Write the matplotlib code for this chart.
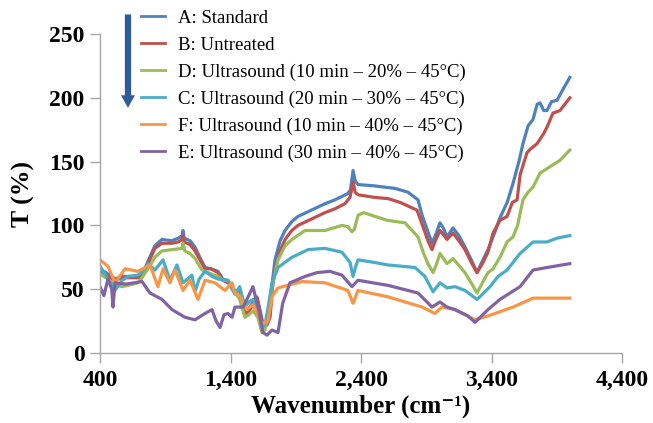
import matplotlib
matplotlib.use("Agg")
import matplotlib.pyplot as plt
from matplotlib.ticker import FuncFormatter

# ---- data ----
a_x = [400,460,515,570,650,720,760,820,875,950,1000,1030,1036,1045,1090,1128,1160,1205,1250,1304,1340,1381,1410,1440,1470,1500,1526,1560,1603,1630,1650,1680,1703,1720,1741,1780,1818,1870,1917,2000,2124,2200,2300,2320,2339,2355,2377,2500,2661,2760,2837,2868,2913,2944,2970,3005,3030,3059,3105,3150,3197,3250,3289,3330,3373,3427,3465,3520,3565,3610,3641,3680,3718,3750,3772,3800,3825,3860,3902,3950,4000]
a_y = [66,62,58,60,60,60,70,84,89,88,90,92,96,90,88,83,76,67,66,64,58,56,52,48,50,40,32,38,44,32,22,24,30,55,73,88,96,103,107,111,117,120,125,128,143,135,132,131,129,126,120,108,95,86,92,102,98,91,98,92,83,72,63,72,81,95,106,118,133,150,164,178,183,195,196,190,190,197,198,207,216]

b_x = [400,460,515,570,650,720,760,820,875,950,1000,1030,1036,1045,1090,1128,1160,1205,1250,1304,1340,1381,1410,1440,1470,1500,1526,1560,1603,1630,1650,1680,1703,1720,1741,1780,1818,1870,1917,2000,2124,2200,2277,2316,2339,2355,2377,2500,2607,2700,2829,2875,2913,2944,2970,3005,3030,3059,3105,3150,3197,3250,3289,3330,3373,3412,3465,3519,3560,3596,3620,3672,3700,3749,3800,3825,3871,3925,4000]
b_y = [64,60,57,59,59,59,68,82,86,86,87,89,92,87,85,80,74,66,66,63,57,55,52,47,50,38,30,36,43,30,20,22,28,50,65,80,89,96,100,104,110,113,117,122,134,126,124,122,121,118,112,99,88,81,88,96,93,89,94,88,81,70,63,70,79,94,104,107,118,120,140,157,160,164,172,177,188,190,200]

d_x = [400,460,515,570,615,691,722,780,821,875,950,1028,1036,1050,1090,1128,1182,1250,1304,1340,1381,1412,1434,1470,1511,1540,1572,1610,1641,1664,1687,1718,1764,1818,1871,1971,2124,2254,2300,2331,2350,2377,2420,2600,2737,2837,2880,2913,2952,2980,3005,3059,3105,3197,3250,3289,3330,3373,3412,3465,3519,3565,3600,3641,3680,3718,3772,3848,3925,4000]
d_y = [62,58,53,52,53,55,59,68,75,80,81,82,86,80,78,74,65,62,60,57,57,52,48,42,28,30,33,28,16,18,30,52,73,84,89,96,96,100,99,95,97,108,110,104,102,91,78,70,63,70,78,70,74,63,54,47,55,63,66,75,87,91,100,120,126,130,141,146,151,159]

c_x = [400,460,515,570,615,691,745,768,821,883,936,990,1036,1105,1128,1160,1205,1258,1304,1381,1412,1434,1470,1511,1540,1572,1610,1641,1664,1687,1718,1764,1871,1994,2124,2254,2316,2339,2360,2377,2500,2607,2814,2890,2952,3005,3059,3120,3197,3250,3289,3330,3389,3450,3519,3619,3718,3825,3902,4000]
c_y = [68,58,49,57,60,61,66,70,65,73,57,69,55,61,48,58,64,60,58,57,50,46,52,36,40,42,35,20,22,35,55,67,75,81,82,79,71,60,68,73,71,69,67,60,48,55,51,52,49,45,42,46,52,60,65,78,87,87,90,92]

f_x = [400,461,515,592,691,783,844,883,936,975,1036,1090,1151,1205,1281,1358,1412,1434,1470,1526,1572,1641,1687,1718,1764,1948,2124,2300,2339,2377,2607,2868,2967,3021,3120,3274,3373,3565,3718,4000]
f_y = [73,68,55,66,64,69,52,66,55,65,49,57,42,57,55,49,55,47,45,34,38,23,25,44,51,56,55,49,39,49,44,36,31,36,34,26,29,36,43,43]

e_x = [400,430,461,490,500,515,600,722,783,875,952,1051,1128,1205,1258,1290,1320,1350,1381,1412,1434,1496,1540,1572,1611,1649,1680,1718,1764,1800,1856,1971,2063,2162,2254,2331,2377,2607,2837,2944,3005,3059,3120,3220,3274,3373,3465,3619,3718,3825,4000]
e_y = [52,45,58,50,36,55,54,56,47,42,34,28,26,31,34,25,20,30,31,28,36,36,45,52,36,16,14,18,16,39,55,60,63,64,61,52,57,53,47,36,40,36,34,29,24,34,42,52,65,67,70]

labels = ["A: Standard", "B: Untreated",
          "D: Ultrasound (10 min \u2013 20% \u2013 45\u00b0C)",
          "C: Ultrasound (20 min \u2013 30% \u2013 45\u00b0C)",
          "F: Ultrasound (10 min \u2013 40% \u2013 45\u00b0C)",
          "E: Ultrasound (30 min \u2013 40% \u2013 45\u00b0C)"]
colors = ["#4F81BD", "#C0504D", "#9BBB59", "#4BACC6", "#F79646", "#8064A2"]
series = [(a_x, a_y), (b_x, b_y), (d_x, d_y), (c_x, c_y), (f_x, f_y), (e_x, e_y)]

x_ticks = [400, 1400, 2400, 3400, 4400]
y_ticks = [0, 50, 100, 150, 200, 250]

SERIF = ["Liberation Serif", "DejaVu Serif"]

# ---- figure ----
fig = plt.figure(figsize=(6.53, 4.23), dpi=100)
ax = fig.add_axes([100/653, 70/423, 522/653, 319/423])

for (x, y), c, lab in zip(series, colors, labels):
    ax.plot(x, y, color=c, lw=2.3, label=lab, solid_joinstyle="round")

ax.set_xlim(400, 4400)
ax.set_ylim(0, 250)
ax.set_xticks(x_ticks)
ax.set_yticks(y_ticks)
ax.xaxis.set_major_formatter(FuncFormatter(lambda v, p: f"{int(v):,}"))

for s in ["top", "right"]:
    ax.spines[s].set_visible(False)
for s in ["left", "bottom"]:
    ax.spines[s].set_color("#A6A6A6")
    ax.spines[s].set_linewidth(1.0)
ax.tick_params(axis="both", colors="#A6A6A6", length=7, width=1.0, direction="out")
ax.tick_params(axis="y", pad=4)
ax.tick_params(axis="x", pad=5)
for lab in ax.get_xticklabels() + ax.get_yticklabels():
    lab.set_color("black")
    lab.set_fontfamily(SERIF)
    lab.set_fontweight("bold")
    lab.set_fontsize(17)

ax.set_xlabel("Wavenumber (cm\u207b\u00b9)", fontfamily=SERIF,
              fontweight="bold", fontsize=18, labelpad=3)
ax.set_ylabel("T (%)", fontfamily=SERIF, fontweight="bold",
              fontsize=18.5, labelpad=10)

leg = ax.legend(loc="upper left", bbox_to_anchor=(0.064, 1.10), frameon=False,
                prop={"family": SERIF, "size": 13.5},
                handlelength=1.3, handletextpad=0.7, labelspacing=0.52,
                borderaxespad=0.0)
for h in leg.get_lines():
    h.set_linewidth(2.0)

ax.annotate("", xy=(0.0536, 0.76), xytext=(0.0536, 1.07),
            xycoords="axes fraction", textcoords="axes fraction",
            arrowprops=dict(arrowstyle="simple,head_width=1.0,head_length=0.9,tail_width=0.45",
                            color="#2E5C99", lw=0),
            annotation_clip=False)

fig.savefig("out.png", dpi=100)
